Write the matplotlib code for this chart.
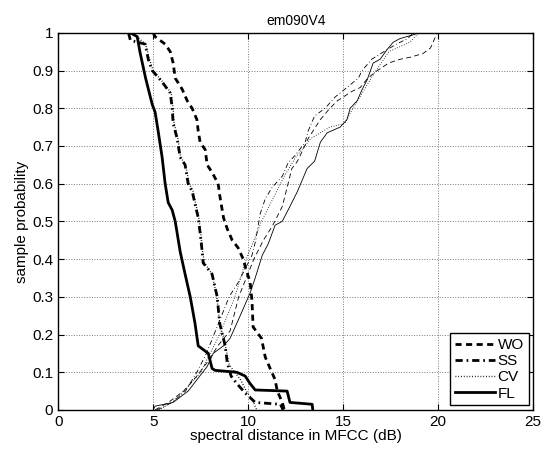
import matplotlib.pyplot as plt

plt.rcParams['font.family'] = ['Liberation Sans', 'DejaVu Sans']
plt.rcParams['font.size'] = 10

# falling curves (thick)
wo_fall_x = [5.0, 5.1, 5.63, 5.9, 6.05, 6.16, 6.53, 6.79, 7.05, 7.3, 7.37, 7.47, 7.74, 7.84, 8.1, 8.42, 8.5,
             8.7, 8.9, 9.16, 9.47, 9.74, 9.9, 10.1, 10.2, 10.26, 10.7, 10.9, 11.2, 11.42, 11.53, 11.8, 11.9]
wo_fall_y = [1.0, 0.99, 0.97, 0.95, 0.92, 0.88, 0.85, 0.82, 0.80, 0.77, 0.74, 0.71, 0.69, 0.65, 0.63, 0.60, 0.57,
             0.51, 0.48, 0.45, 0.43, 0.40, 0.37, 0.34, 0.29, 0.22, 0.19, 0.14, 0.105, 0.08, 0.05, 0.02, 0.0]
ss_fall_x = [3.7, 3.8, 4.58, 4.74, 4.95, 5.47, 5.9, 6.0, 6.05, 6.26, 6.42, 6.68, 6.84, 7.05, 7.37, 7.47, 7.58,
             7.63, 8.1, 8.37, 8.5, 8.79, 8.9, 9.1, 9.4, 9.84, 10.37, 11.7, 11.84]
ss_fall_y = [1.0, 0.98, 0.97, 0.93, 0.90, 0.87, 0.84, 0.80, 0.76, 0.72, 0.67, 0.65, 0.60, 0.58, 0.51, 0.47, 0.42,
             0.39, 0.36, 0.30, 0.23, 0.17, 0.125, 0.09, 0.07, 0.045, 0.02, 0.015, 0.0]
cv_fall_x = [3.9, 4.6, 4.8, 5.0, 5.5, 5.95, 6.05, 6.1, 6.3, 6.45, 6.7, 6.9, 7.1, 7.4, 7.5, 7.6, 7.7, 8.1, 8.35,
             8.5, 8.8, 9.0, 9.3, 9.6, 9.9, 10.2, 10.45]
cv_fall_y = [1.0, 0.97, 0.93, 0.90, 0.87, 0.84, 0.80, 0.76, 0.72, 0.67, 0.65, 0.60, 0.58, 0.51, 0.47, 0.42, 0.39,
             0.36, 0.30, 0.23, 0.17, 0.12, 0.10, 0.08, 0.05, 0.03, 0.0]
fl_fall_x = [3.8, 4.16, 4.3, 4.6, 4.95, 5.1, 5.26, 5.47, 5.63, 5.79, 6.0, 6.16, 6.42, 6.68, 6.95, 7.2, 7.37, 7.9,
             8.1, 8.26, 9.4, 9.84, 10.1, 10.37, 12.05, 12.2, 13.37, 13.4]
fl_fall_y = [1.0, 0.99, 0.95, 0.88, 0.81, 0.79, 0.74, 0.67, 0.60, 0.55, 0.53, 0.50, 0.42, 0.36, 0.30, 0.23, 0.17,
             0.15, 0.11, 0.105, 0.10, 0.09, 0.07, 0.053, 0.05, 0.02, 0.015, 0.0]

# rising curves (thin)
wo_rise_x = [5.1, 5.8, 6.6, 7.3, 7.9, 8.4, 9.05, 9.5, 9.9, 10.3, 10.8, 11.3, 11.8, 12.05, 12.3, 12.6, 13.16,
             13.8, 14.3, 14.7, 15.47, 15.9, 16.3, 16.8, 17.4, 18.0, 18.5, 19.2, 19.6, 19.95]
wo_rise_y = [0.0, 0.02, 0.05, 0.09, 0.13, 0.17, 0.21, 0.30, 0.35, 0.40, 0.45, 0.49, 0.54, 0.59, 0.64, 0.66, 0.72,
             0.77, 0.80, 0.82, 0.845, 0.855, 0.88, 0.90, 0.92, 0.93, 0.935, 0.945, 0.96, 1.0]
ss_rise_x = [5.2, 6.0, 6.7, 7.3, 7.8, 8.2, 8.6, 9.0, 9.5, 9.9, 10.2, 10.4, 10.63, 10.9, 11.26, 11.8, 12.1, 12.47,
             13.0, 13.16, 13.5, 14.05, 14.58, 15.2, 15.8, 16.0, 16.5, 17.3, 17.8, 18.4, 18.7]
ss_rise_y = [0.0, 0.02, 0.05, 0.10, 0.15, 0.20, 0.25, 0.30, 0.34, 0.38, 0.41, 0.45, 0.52, 0.56, 0.59, 0.62, 0.655,
             0.675, 0.71, 0.74, 0.78, 0.80, 0.83, 0.855, 0.88, 0.90, 0.93, 0.955, 0.97, 0.985, 1.0]
cv_rise_x = [5.3, 6.0, 6.8, 7.5, 8.0, 8.5, 8.9, 9.3, 9.6, 9.9, 10.3, 10.7, 11.3, 11.9, 12.5, 13.3, 14.3, 15.1,
             15.4, 16.0, 16.6, 17.4, 18.5, 19.0]
cv_rise_y = [0.0, 0.02, 0.06, 0.10, 0.15, 0.20, 0.25, 0.30, 0.35, 0.40, 0.45, 0.50, 0.56, 0.62, 0.67, 0.72, 0.75,
             0.76, 0.79, 0.84, 0.89, 0.95, 0.975, 1.0]
fl_rise_x = [5.0, 5.1, 6.05, 6.84, 7.3, 7.84, 8.16, 8.7, 9.05, 9.58, 10.1, 10.37, 10.74, 11.05, 11.42, 11.79,
             12.1, 12.6, 13.1, 13.5, 13.8, 14.16, 14.84, 15.2, 15.37, 15.74, 16.0, 16.26, 16.58, 16.95, 17.3,
             17.63, 18.0, 18.7, 18.95]
fl_rise_y = [0.0, 0.01, 0.02, 0.05, 0.08, 0.115, 0.15, 0.17, 0.19, 0.25, 0.31, 0.35, 0.41, 0.44, 0.49, 0.50,
             0.53, 0.58, 0.64, 0.66, 0.71, 0.735, 0.75, 0.77, 0.80, 0.82, 0.85, 0.875, 0.92, 0.93, 0.955,
             0.975, 0.985, 0.995, 1.0]

labels = ['WO', 'SS', 'CV', 'FL']
thick_styles = [(0, (2.2, 1.6)), (0, (2.6, 1.4, 0.6, 1.4)), (0, (0.6, 1.4)), '-']
thin_styles = [(0, (6, 4)), (0, (6, 3, 1, 3)), (0, (1, 2)), '-']

fig = plt.figure(figsize=(5.44, 4.5), dpi=100)
ax = fig.add_axes([0.107, 0.089, 0.873, 0.838])

falls = [(wo_fall_x, wo_fall_y), (ss_fall_x, ss_fall_y), (cv_fall_x, cv_fall_y), (fl_fall_x, fl_fall_y)]
rises = [(wo_rise_x, wo_rise_y), (ss_rise_x, ss_rise_y), (cv_rise_x, cv_rise_y), (fl_rise_x, fl_rise_y)]

handles = []
for (fx, fy), lab, ls in zip(falls, labels, thick_styles):
    lw = 1.0 if lab == 'CV' else 2.0
    h, = ax.plot(fx, fy, color='k', linestyle=ls, linewidth=lw, label=lab)
    handles.append(h)
for (rx, ry), ls in zip(rises, thin_styles):
    ax.plot(rx, ry, color='k', linestyle=ls, linewidth=0.6)

ax.set_xlim(0, 25)
ax.set_ylim(0, 1)
ax.set_xticks([0, 5, 10, 15, 20, 25])
ax.set_yticks([i / 10 for i in range(11)])
ax.set_yticklabels(['0', '0.1', '0.2', '0.3', '0.4', '0.5', '0.6', '0.7', '0.8', '0.9', '1'])
ax.tick_params(direction='in', top=True, right=True, length=4, labelsize=11)
ax.grid(True, linestyle=':', color='#777777', linewidth=0.7)
for s in ax.spines.values():
    s.set_linewidth(1.0)

ax.set_title('em090V4', fontsize=10)
ax.set_xlabel('spectral distance in MFCC (dB)', fontsize=11, labelpad=0)
ax.set_ylabel('sample probability', fontsize=11, labelpad=2)

leg = ax.legend(handles=handles, loc='lower right', fontsize=11, handlelength=2.6, handletextpad=0.2,
                borderaxespad=0.3, labelspacing=0.15, fancybox=False, framealpha=1, edgecolor='k',
                borderpad=0.3)
leg.get_frame().set_linewidth(1.0)

fig.savefig('out.png', dpi=100)
